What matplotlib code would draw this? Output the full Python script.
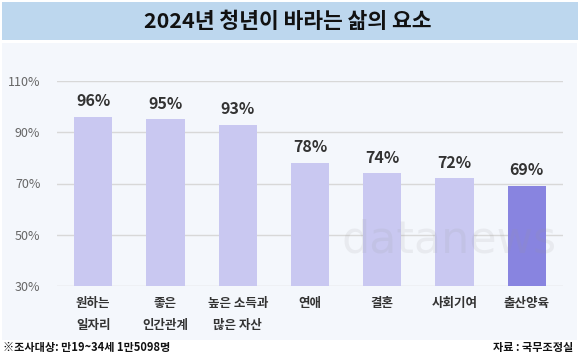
import matplotlib.pyplot as plt
from matplotlib.patches import Rectangle

plt.rcParams['font.family'] = ['Noto Sans CJK KR', 'DejaVu Sans']

# 데이터
categories = ['원하는\n일자리', '좋은\n인간관계', '높은 소득과\n많은 자산', '연애', '결혼', '사회기여', '출산양육']
values = [96, 95, 93, 78, 74, 72, 69]
bar_colors = ['#C9C8F1'] * 6 + ['#8884E0']
yticks = [30, 50, 70, 90, 110]
ytick_labels = ['30%', '50%', '70%', '90%', '110%']

W, H = 580, 361
fig = plt.figure(figsize=(W / 100, H / 100), dpi=100)
fig.patch.set_facecolor('white')

# 제목 띠
fig.patches.append(Rectangle((2 / W, 1 - 40 / H), 576 / W, 38 / H, transform=fig.transFigure,
                             facecolor='#BDD7EE', edgecolor='none', zorder=-1))
fig.text(288 / W, 1 - 21 / H, '2024년 청년이 바라는 삶의 요소', ha='center', va='center',
         fontsize=15.5, fontweight='bold', color='#111111')

# 차트 배경 패널
fig.patches.append(Rectangle((2 / W, 1 - 340 / H), 575 / W, 297 / H, transform=fig.transFigure,
                             facecolor='#F4F7FC', edgecolor='none', zorder=-1))

ax = fig.add_axes([57 / W, 1 - 286 / H, (563 - 57) / W, (286 - 81) / H])
ax.set_zorder(2)
ax.set_facecolor('none')
x = range(len(categories))
ax.bar(x, values, width=0.53, color=bar_colors, zorder=3)
for i, v in enumerate(values):
    ax.text(i, v + 3, f'{v}%', ha='center', va='bottom', fontsize=11.5,
            fontweight='bold', color='#333333')

ax.set_xlim(-0.5, len(categories) - 0.5)
ax.set_ylim(30, 110)
ax.set_yticks(yticks)
ax.set_yticklabels(ytick_labels, fontsize=9, color='#666666')
ax.set_xticks(list(x))
ax.set_xticklabels(categories, fontsize=9, fontweight='bold', color='#333333', linespacing=1.9)
ax.grid(axis='y', color='#D8D8D8', linewidth=1, zorder=0)
ax.tick_params(axis='both', length=0)
ax.tick_params(axis='y', pad=12)
ax.tick_params(axis='x', pad=8)
for s in ax.spines.values():
    s.set_visible(False)

# 워터마크
wm = fig.text(449 / W, 1 - 240 / H, 'datanews', ha='center', va='center', fontsize=32,
              color='#9a9a9a', alpha=0.13, family='DejaVu Sans')
wm.set_zorder(5)

# 하단 주석
fig.text(3 / W, 1 - 347 / H, '※조사대상: 만19~34세 1만5098명', ha='left', va='center',
         fontsize=8, fontweight='bold', color='#111111')
fig.text(573 / W, 1 - 347 / H, '자료 : 국무조정실', ha='right', va='center',
         fontsize=8, fontweight='bold', color='#111111')

fig.savefig('out.png', dpi=100)
